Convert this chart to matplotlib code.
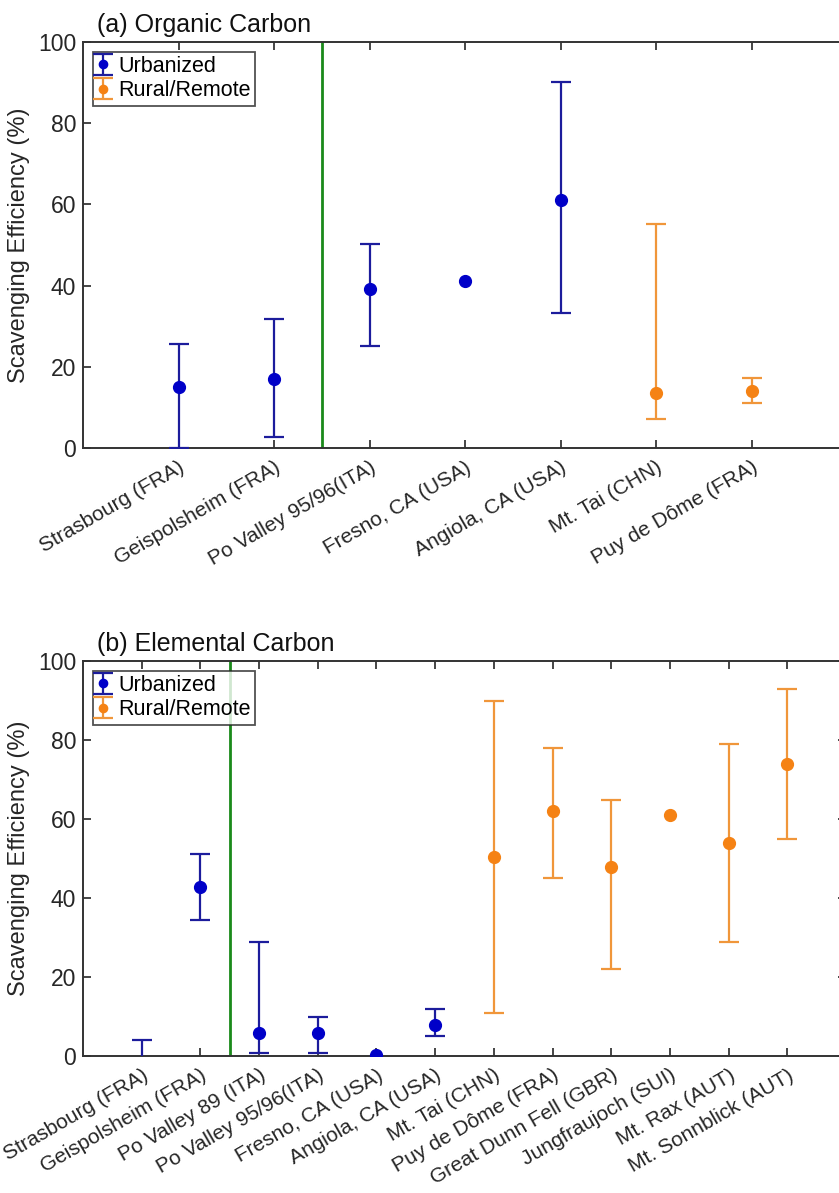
import matplotlib.pyplot as plt
import numpy as np

plt.rcParams['font.family'] = ['Liberation Sans', 'DejaVu Sans']

# (a) Organic Carbon
oc_sites = ['Strasbourg (FRA)', 'Geispolsheim (FRA)', 'Po Valley 95/96(ITA)',
            'Fresno, CA (USA)', 'Angiola, CA (USA)', 'Mt. Tai (CHN)', 'Puy de Dôme (FRA)']
oc_urban = [True, True, True, True, True, False, False]
oc_val = [15.0, 17.1, 39.1, 41.1, 61.1, 13.6, 14.1]
oc_hi = [25.6, 31.7, 50.2, 41.1, 90.1, 55.2, 17.2]
oc_lo = [0.0, 2.6, 25.1, 41.1, 33.2, 7.1, 11.1]
oc_split = 2.5

# (b) Elemental Carbon
ec_sites = ['Strasbourg (FRA)', 'Geispolsheim (FRA)', 'Po Valley 89 (ITA)',
            'Po Valley 95/96(ITA)', 'Fresno, CA (USA)', 'Angiola, CA (USA)',
            'Mt. Tai (CHN)', 'Puy de Dôme (FRA)', 'Great Dunn Fell (GBR)',
            'Jungfraujoch (SUI)', 'Mt. Rax (AUT)', 'Mt. Sonnblick (AUT)']
ec_urban = [True, True, True, True, True, True,
            False, False, False, False, False, False]
ec_val = [-3.0, 42.7, 5.9, 5.9, 0.2, 7.9, 50.5, 61.9, 47.9, 61.0, 53.9, 73.9]
ec_hi = [4.1, 51.1, 28.9, 9.9, 0.2, 11.9, 90.0, 78.0, 64.9, 61.0, 79.0, 93.0]
ec_lo = [-8.0, 34.4, 0.8, 0.8, 0.2, 5.0, 11.0, 45.0, 21.9, 61.0, 28.9, 54.9]
ec_split = 2.5

blue_line = '#1c1c9c'
blue_mk = '#0000c8'
orange_line = '#f0963a'
orange_mk = '#f58214'
green = '#1a8a1a'


def panel(ax, title, sites, urban, val, hi, lo, split):
    val = np.array(val); hi = np.array(hi); lo = np.array(lo)
    urban = np.array(urban)
    x = np.arange(1, len(sites) + 1)
    err = np.vstack([val - lo, hi - val])
    err[:, hi == lo] = np.nan   # no error bar for single values
    for sel, lc, mc, lab in [(urban, blue_line, blue_mk, 'Urbanized'),
                             (~urban, orange_line, orange_mk, 'Rural/Remote')]:
        ax.errorbar(x[sel], val[sel], yerr=err[:, sel], fmt='o', color=lc,
                    mfc=mc, mec=mc, ms=8.5, elinewidth=1.6, capsize=7,
                    capthick=1.6, label=lab, zorder=3)
    ax.axvline(split, color=green, lw=2, zorder=2)
    ax.set_xlim(0, len(sites) + 1)
    ax.set_ylim(0, 100)
    ax.set_yticks([0, 20, 40, 60, 80, 100])
    ax.set_xticks(x)
    ax.set_xticklabels(sites, rotation=30, ha='right', rotation_mode='anchor')
    ax.tick_params(direction='in', length=6, width=1.2, colors='#262626',
                   top=True, right=True)
    ax.tick_params(axis='x', labelsize=15, pad=7)
    ax.tick_params(axis='y', labelsize=16.5, pad=5)
    for s in ax.spines.values():
        s.set_linewidth(1.4)
        s.set_color('#333333')
    ax.set_ylabel('Scavenging Efficiency (%)', fontsize=17, color='#262626')
    ax.text(0.018, 1.012, title, transform=ax.transAxes, fontsize=18,
            color='#111111', va='bottom', ha='left')
    leg = ax.legend(loc='upper left', fontsize=15.5, frameon=True, fancybox=False,
                    borderpad=0.2, handlelength=0.6, handletextpad=0.4,
                    labelspacing=0.15, borderaxespad=0.45, markerscale=0.7)
    leg.get_frame().set_edgecolor('#262626')
    leg.get_frame().set_linewidth(1.3)


fig = plt.figure(figsize=(8.39, 11.93), dpi=100)
ax1 = fig.add_axes([83 / 839, 1 - 448 / 1193, 764 / 839, 406 / 1193])
ax2 = fig.add_axes([83 / 839, 1 - 1056 / 1193, 763 / 839, 395 / 1193])

panel(ax1, '(a) Organic Carbon', oc_sites, oc_urban, oc_val, oc_hi, oc_lo, oc_split)
panel(ax2, '(b) Elemental Carbon', ec_sites, ec_urban, ec_val, ec_hi, ec_lo, ec_split)

ax1.yaxis.set_label_coords(-0.07, 0.5)
ax2.yaxis.set_label_coords(-0.07, 0.5)

fig.savefig('out.png', dpi=100)
